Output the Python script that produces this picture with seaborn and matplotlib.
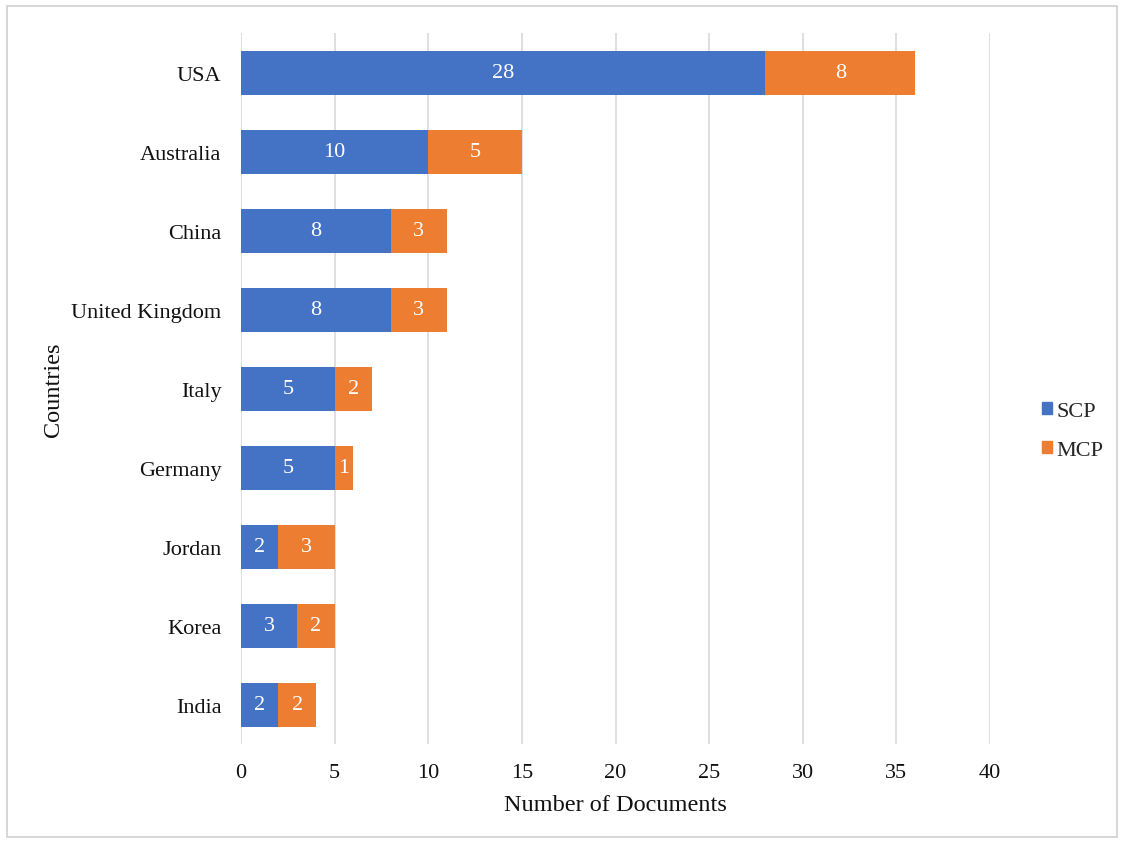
import pandas as pd
import numpy as np
import matplotlib.pyplot as plt
import seaborn as sns
from matplotlib.patches import Rectangle, Patch

# Dados
countries = ["USA", "Australia", "China", "United Kingdom", "Italy",
             "Germany", "Jordan", "Korea", "India"]
scp = [28, 10, 8, 8, 5, 5, 2, 3, 2]
mcp = [8, 5, 3, 3, 2, 1, 3, 2, 2]

BLUE = "#4472C4"
ORANGE = "#ED7D31"

df = pd.DataFrame({"country": countries, "SCP": scp, "MCP": mcp})
df["total"] = df["SCP"] + df["MCP"]

sns.set_theme(style="white")
plt.rcParams["font.family"] = ["Liberation Serif", "DejaVu Serif"]

fig = plt.figure(figsize=(11.24, 8.45), dpi=100)
ax = fig.add_axes([0.2144, 0.1178, 0.8808 - 0.2144, 0.9592 - 0.1178])

# empilhado: total (laranja) por baixo, SCP (azul) por cima
sns.barplot(data=df, y="country", x="total", color=ORANGE, orient="h",
            width=0.56, saturation=1, linewidth=0, ax=ax, zorder=3)
sns.barplot(data=df, y="country", x="SCP", color=BLUE, orient="h",
            width=0.56, saturation=1, linewidth=0, ax=ax, zorder=4)

for i, row in df.iterrows():
    ax.text(row["SCP"] / 2, i, str(row["SCP"]), color="white",
            ha="center", va="center", fontsize=16, zorder=5)
    ax.text(row["SCP"] + row["MCP"] / 2, i, str(row["MCP"]), color="white",
            ha="center", va="center", fontsize=16, zorder=5)

ax.set_xlim(0, 40)
ax.set_ylim(len(df) - 0.5, -0.5)
ax.set_xticks(np.arange(0, 45, 5))
ax.grid(axis="x", color="#d9d9d9", linewidth=1.2, zorder=0)
ax.grid(axis="y", visible=False)
for s in ax.spines.values():
    s.set_visible(False)
ax.tick_params(axis="both", length=0, labelsize=16, colors="#111111")
ax.tick_params(axis="x", pad=13)
ax.tick_params(axis="y", pad=14)
ax.set_xlabel("Number of Documents", fontsize=17.5, labelpad=9, color="#111111")
ax.set_ylabel("Countries", fontsize=17.5, labelpad=5, color="#111111")

handles = [Patch(color=BLUE, label="SCP"), Patch(color=ORANGE, label="MCP")]
fig.legend(handles=handles, loc="center left", bbox_to_anchor=(0.909, 0.489),
           frameon=False, fontsize=16, handlelength=0.45, handleheight=0.45,
           handletextpad=0.2, labelspacing=0.92)

# moldura externa
fig.patches.append(Rectangle((0.006, 0.008), 0.988, 0.984, transform=fig.transFigure,
                             fill=False, edgecolor="#d0d0d0", linewidth=1.2))

plt.savefig("out.png", dpi=100)
